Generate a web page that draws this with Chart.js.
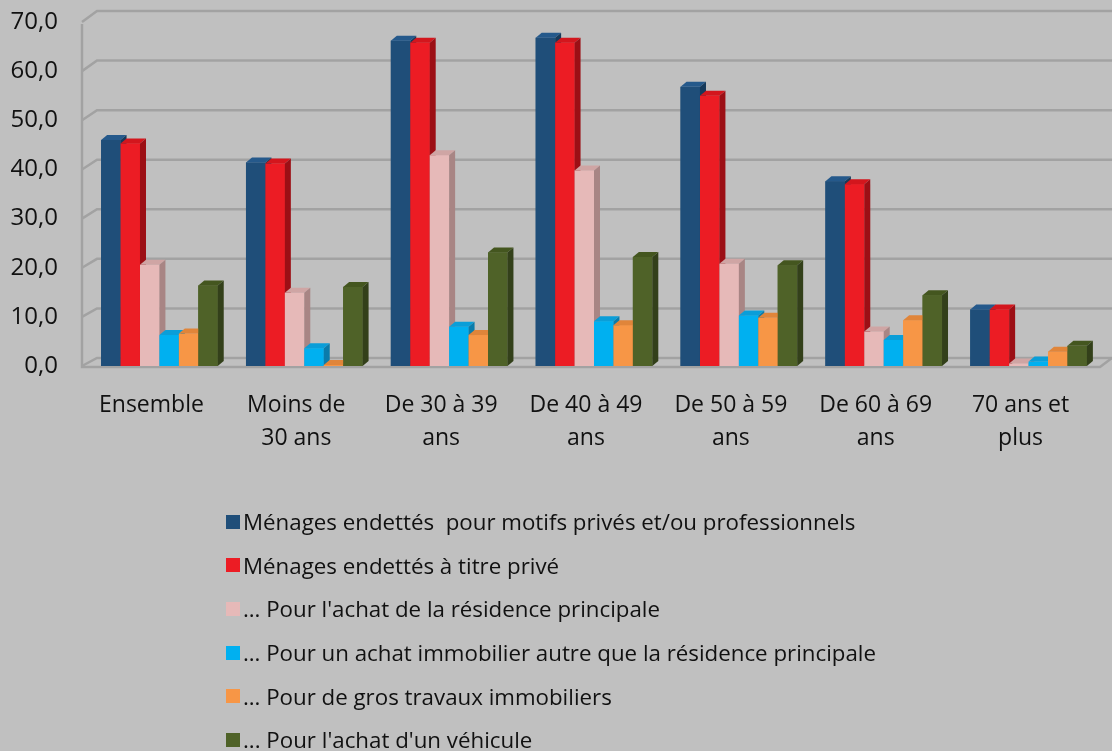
<!DOCTYPE html>
<html lang="fr">
<head>
<meta charset="utf-8">
<script src="https://cdn.jsdelivr.net/npm/chart.js@4/dist/chart.umd.min.js"></script>
<style>
  body { margin: 0; background: #c0c0c0; font-family: "Open Sans", sans-serif; }
  .wrap { position: relative; width: 1112px; height: 751px; }
  .legend { position: absolute; left: 226px; top: 500px; }
  .legend-item { height: 43.6px; display: flex; align-items: center; font-size: 22.3px; color: #111; white-space: pre; }
  .legend-item span.box { width: 14px; height: 14px; margin-right: 3px; display: inline-block; }
</style>
</head>
<body>
<div class="wrap">
  <canvas id="chart"></canvas>
  <div class="legend"></div>
</div>
<script>
const categories = ["Ensemble", ["Moins de", "30 ans"], ["De 30 à 39", "ans"], ["De 40 à 49", "ans"],
  ["De 50 à 59", "ans"], ["De 60 à 69", "ans"], ["70 ans et", "plus"]];

const seriesLabels = [
  "Ménages endettés  pour motifs privés et/ou professionnels",
  "Ménages endettés à titre privé",
  "… Pour l'achat de la résidence principale",
  "… Pour un achat immobilier autre que la résidence principale",
  "… Pour de gros travaux immobiliers",
  "... Pour l'achat d'un véhicule"
];

const menagesEndettes = [46.0, 41.4, 66.2, 66.8, 56.8, 37.6, 11.5];
const titrePrive = [45.3, 41.2, 65.8, 65.8, 55.0, 37.0, 11.5];
const residencePrincipale = [20.6, 14.9, 42.9, 39.8, 20.8, 7.0, 0.5];
const autreImmobilier = [6.3, 3.6, 8.0, 9.1, 10.3, 5.3, 0.9];
const grosTravaux = [6.6, 0.2, 6.3, 8.3, 9.8, 9.3, 2.9];
const vehicule = [16.4, 16.1, 23.1, 22.2, 20.5, 14.4, 4.1];

const yTicks = [0, 10, 20, 30, 40, 50, 60, 70];

// couleurs : face avant, dessus, côté
const colors = [
  ["#1f4e79", "#25598b", "#163a5b"],
  ["#ec1c24", "#d3161d", "#9c0f15"],
  ["#e6b9b8", "#cfa5a4", "#a88584"],
  ["#00b0f0", "#0a9ed8", "#0a7cab"],
  ["#f79646", "#e0853a", "#b86b2e"],
  ["#4f6228", "#44561f", "#33401a"]
];

const seriesData = [menagesEndettes, titrePrive, residencePrincipale, autreImmobilier, grosTravaux, vehicule];

// murs / quadrillage en perspective
const wallPlugin = {
  id: "wall",
  beforeDatasetsDraw(chart) {
    const { ctx, chartArea, scales } = chart;
    const fx = chartArea.left - 5;
    const bx = fx + 15;
    ctx.save();
    ctx.strokeStyle = "#a2a2a2";
    ctx.lineWidth = 2.5;
    yTicks.forEach((v) => {
      const y = scales.y.getPixelForValue(v);
      const dy = 8 + (3 * v) / 70;
      ctx.beginPath();
      ctx.moveTo(fx, y);
      ctx.lineTo(bx, y - dy);
      ctx.lineTo(chart.width, y - dy);
      ctx.stroke();
    });
    const y0 = scales.y.getPixelForValue(0);
    const y70 = scales.y.getPixelForValue(70);
    ctx.beginPath();
    ctx.moveTo(fx, y70 + 2);
    ctx.lineTo(fx, y0 + 1);
    ctx.lineTo(chart.width - 12, y0 + 1);
    ctx.lineTo(chart.width, y0 - 8);
    ctx.stroke();
    ctx.restore();
  }
};

// barres en 3D
const depthPlugin = {
  id: "depth",
  afterDatasetsDraw(chart) {
    const ctx = chart.ctx;
    const dx = 6, dy = 5;
    ctx.save();
    chart.data.labels.forEach((_, i) => {
      chart.data.datasets.forEach((ds, d) => {
        const bar = chart.getDatasetMeta(d).data[i];
        const x0 = bar.x - bar.width / 2;
        const x1 = bar.x + bar.width / 2;
        const top = bar.y;
        const base = bar.base;
        const c = colors[d];
        ctx.fillStyle = c[0];
        ctx.fillRect(x0, top, x1 - x0, base - top);
        ctx.fillStyle = c[1];
        ctx.beginPath();
        ctx.moveTo(x0, top);
        ctx.lineTo(x0 + dx, top - dy);
        ctx.lineTo(x1 + dx, top - dy);
        ctx.lineTo(x1, top);
        ctx.closePath();
        ctx.fill();
        ctx.fillStyle = c[2];
        ctx.beginPath();
        ctx.moveTo(x1, top);
        ctx.lineTo(x1 + dx, top - dy);
        ctx.lineTo(x1 + dx, base - dy);
        ctx.lineTo(x1, base);
        ctx.closePath();
        ctx.fill();
      });
    });
    ctx.restore();
  }
};

const chart = new Chart(document.getElementById("chart"), {
  type: "bar",
  data: {
    labels: categories,
    datasets: seriesData.map((values, i) => ({
      label: seriesLabels[i],
      data: values,
      backgroundColor: colors[i][0],
      borderWidth: 0
    }))
  },
  options: {
    responsive: true,
    maintainAspectRatio: false,
    animation: false,
    layout: { padding: { top: 22, right: 11, left: 0, bottom: 0 } },
    datasets: { bar: { categoryPercentage: 0.805, barPercentage: 1 } },
    plugins: { legend: { display: false }, tooltip: { enabled: false } },
    scales: {
      x: {
        grid: { display: false, drawTicks: false },
        border: { display: false },
        ticks: {
          color: "#111",
          font: { family: "Open Sans", size: 23, lineHeight: 1.43 },
          padding: 23,
          labelOffset: -8,
          maxRotation: 0,
          autoSkip: false
        },
        afterFit: (s) => { s.height = 751 - 366; }
      },
      y: {
        min: 0,
        max: 70,
        grid: { display: false, drawTicks: false },
        border: { display: false },
        ticks: {
          stepSize: 10,
          color: "#111",
          font: { family: "Open Sans", size: 24 },
          padding: 29,
          callback: (v) => v.toFixed(1).replace(".", ",")
        },
        afterFit: (s) => {
          s.width = 87;
          s.paddingTop = 0;
          s.paddingBottom = 0;
        }
      }
    }
  },
  plugins: [wallPlugin, depthPlugin]
});

// légende
const legendBox = document.querySelector(".legend");
chart.data.datasets.forEach((ds, i) => {
  const item = document.createElement("div");
  item.className = "legend-item";
  const box = document.createElement("span");
  box.className = "box";
  box.style.background = colors[i][0];
  item.appendChild(box);
  item.appendChild(document.createTextNode(ds.label));
  legendBox.appendChild(item);
});
</script>
</body>
</html>
